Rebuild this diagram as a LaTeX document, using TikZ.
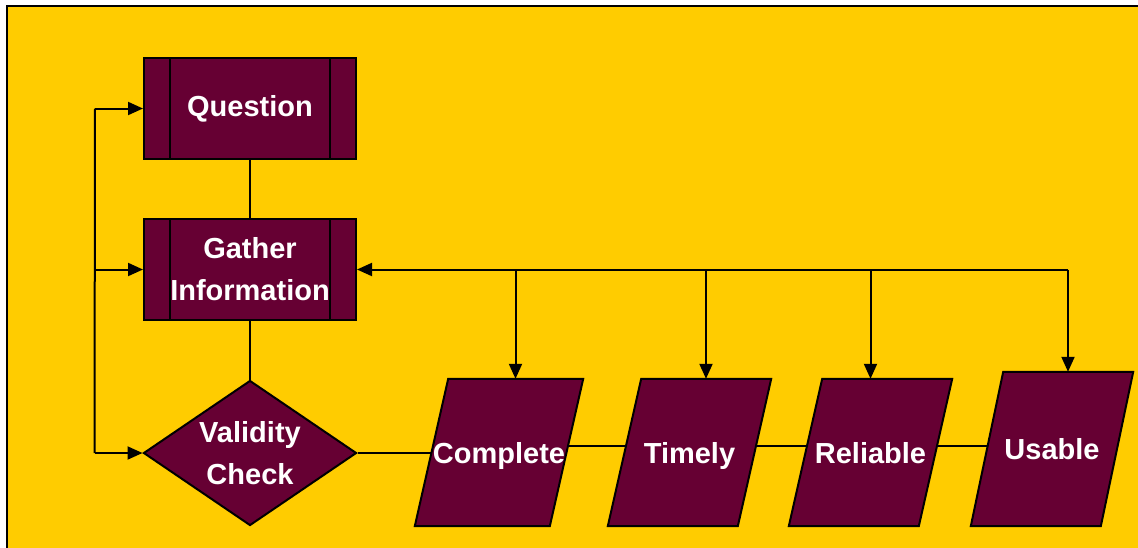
\documentclass[tikz,border=0pt]{standalone}
\usepackage{fontspec}
\setmainfont{Liberation Sans}
\usetikzlibrary{shapes.geometric,arrows.meta,backgrounds}
\definecolor{bgyellow}{HTML}{FFCC00}
\definecolor{maroon}{HTML}{660033}
\begin{document}
\begin{tikzpicture}[x=1pt,y=-1pt,
  lbl/.style={font=\fontsize{29}{42}\selectfont\bfseries, text=white, align=center},
  ln/.style={line width=2pt, draw=black},
  arr/.style={ln, -{Triangle[length=15pt,width=13pt]}},
  proc/.style={lbl, ln, fill=maroon, minimum width=212pt, minimum height=101pt, inner sep=0pt,
    path picture={\draw[line width=2pt]
      ([xshift=26pt]path picture bounding box.north west) -- ([xshift=26pt]path picture bounding box.south west)
      ([xshift=-26pt]path picture bounding box.north east) -- ([xshift=-26pt]path picture bounding box.south east);}},
  dec/.style={lbl, shape=diamond, ln, fill=maroon, minimum width=213pt, minimum height=145pt, aspect=1.47, inner sep=0pt},
  para/.style={lbl, minimum height=147pt, inner sep=0pt, text height=21pt, text depth=0pt},
  pfill/.style={ln, fill=maroon, line join=miter}
]
\useasboundingbox (0,0) rectangle (1138,547);

% nodes
\node[proc] (Q) at (250,108.5) {Question};
\node[proc] (G) at (250,269.5) {Gather\\Information};
\node[dec]  (D) at (250,453) {Validity\\Check};
\node[para, minimum width=168pt] (C) at (499,452.5) {Complete};
\node[para, minimum width=163pt] (T) at (689.5,452.5) {Timely};
\node[para, minimum width=163pt] (R) at (870.5,452.5) {Reliable};
\node[para, minimum width=162pt, minimum height=154pt] (U) at (1052,449) {Usable};

\coordinate (ly) at (0,446);
\coordinate (Ctop) at ([xshift=16.5pt]C.north);
\coordinate (Ttop) at ([xshift=16.5pt]T.north);
\coordinate (Rtop) at (R.north);
\coordinate (Utop) at ([xshift=16pt]U.north);
\coordinate (Lq) at ([xshift=-48pt]Q.west);
\coordinate (Lg) at ([xshift=-48pt]G.west);
\coordinate (Ld) at ([xshift=-48pt]D.west);

\begin{scope}[on background layer]
  \fill[white] (0,0) rectangle (1138,547);
  \draw[ln, fill=bgyellow] (7,6) rectangle (1145,555);
  % chain behind the parallelograms
  \draw[ln] (D.east) -- (C.center |- D.east);
  \draw[ln] (C.center |- ly) -- (T.center |- ly);
  \draw[ln] (T.center |- ly) -- (R.center |- ly);
  \draw[ln] (R.center |- ly) -- (U.center |- ly);
  % parallelograms
  \path[pfill] (C.south west) -- ++(135,0) -- (C.north east) -- ++(-135,0) -- cycle;
  \path[pfill] (T.south west) -- ++(130,0) -- (T.north east) -- ++(-130,0) -- cycle;
  \path[pfill] (R.south west) -- ++(130,0) -- (R.north east) -- ++(-130,0) -- cycle;
  \path[pfill] (U.south west) -- ++(130,0) -- (U.north east) -- ++(-130,0) -- cycle;
\end{scope}

% vertical flow
\draw[ln] (Q) -- (G);
\draw[ln] (G) -- (D);

% feedback loop on the left
\draw[ln] (Lq) -- (Ld);
\draw[arr] (Lq) -- (Q.west);
\draw[arr] (Lg) -- (G.west);
\draw[arr] (Ld) -- (D.west);

% bus on the right
\draw[arr] (Utop |- G.east) -- (G.east);
\draw[arr] (Ctop |- G.east) -- (Ctop);
\draw[arr] (Ttop |- G.east) -- (Ttop);
\draw[arr] (Rtop |- G.east) -- (Rtop);
\draw[arr] (Utop |- G.east) -- (Utop);
\end{tikzpicture}
\end{document}
